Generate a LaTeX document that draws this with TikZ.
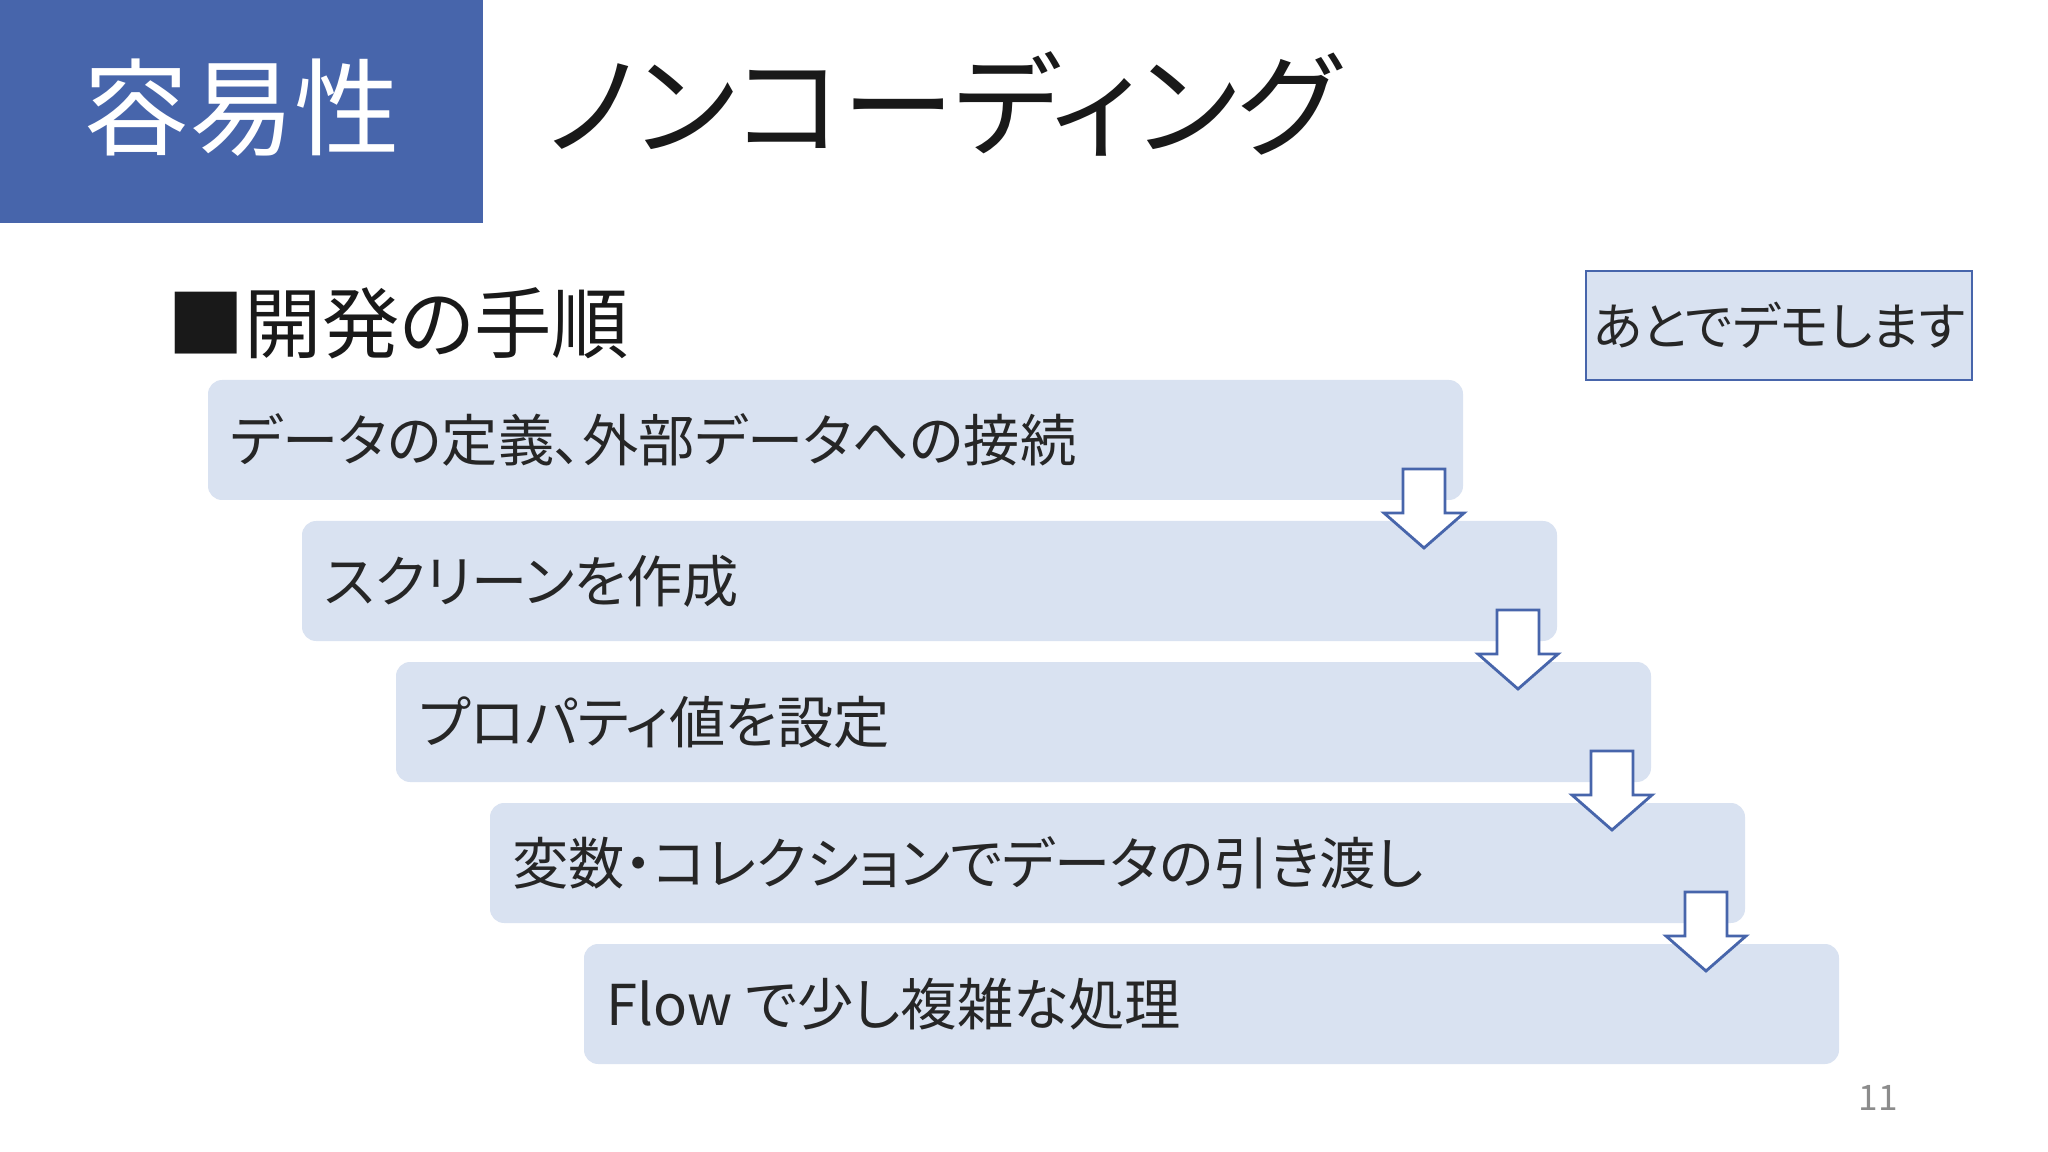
\documentclass[tikz,border=0pt]{standalone}
\usepackage{fontspec}
\setmainfont{Noto Sans CJK JP}[RawFeature=+palt]
\begin{document}
\begin{tikzpicture}[x=0.01cm,y=-0.01cm,
  stepbox/.style={fill=stepc,rounded corners=4pt,draw=none},
  stxt/.style={anchor=west,font=\fontsize{16}{18}\selectfont,text=black!85},
  arr/.style={draw=blueA,fill=white,line width=0.8pt}]
\definecolor{blueA}{HTML}{4765AB}
\definecolor{stepc}{HTML}{D9E2F1}
\useasboundingbox (0,0) rectangle (2048,1152);
\fill[white] (0,0) rectangle (2048,1152);
\fill[blueA] (0,0) rectangle (483,223);
\node[text=white,font=\fontsize{30}{32}\selectfont] (t1) at (242,108) {容易性};
\node[anchor=west,font=\fontsize{32}{34}\selectfont,text=black!90] (t2) at (535,104) {ノンコーディング};
\node[anchor=west,font=\fontsize{22}{26}\selectfont,text=black!90] (h) at (155,323) {■開発の手順};
\draw[draw=blueA,fill=stepc,line width=0.8pt] (1586,271) rectangle (1972,380);
\node[font=\fontsize{14.5}{16}\selectfont,text=black!85] (demo) at (1779,325) {あとでデモします};
\foreach \i/\t in {0/データの定義、外部データへの接続,1/スクリーンを作成,2/プロパティ値を設定,3/変数・コレクションでデータの引き渡し,4/Flow で少し複雑な処理}{
  \pgfmathsetmacro\xa{208+94*\i}
  \pgfmathsetmacro\ya{380+141*\i}
  \fill[stepbox] (\xa,\ya) rectangle (\xa+1255,\ya+120);
  \node[stxt] (s\i) at (\xa+10,\ya+60) {\t};
}
\foreach \i in {0,1,2,3}{
  \pgfmathsetmacro\cx{1424+94*\i}
  \pgfmathsetmacro\by{500+141*\i}
  \draw[arr] (\cx-21,\by-31) -- (\cx+21,\by-31) -- (\cx+21,\by+13) -- (\cx+40,\by+13) -- (\cx,\by+48) -- (\cx-40,\by+13) -- (\cx-21,\by+13) -- cycle;
}
\node[text=black!45,font=\fontsize{10}{12}\selectfont] (pn) at (1878,1098) {11};
\end{tikzpicture}
\end{document}
